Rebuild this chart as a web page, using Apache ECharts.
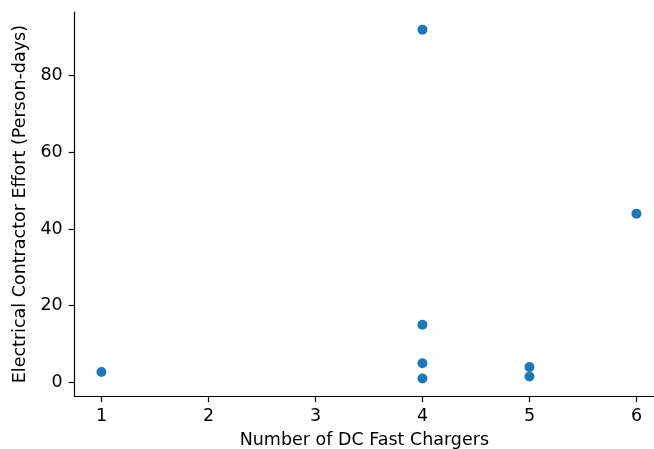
<!DOCTYPE html>
<html>
<head>
<meta charset="utf-8">
<script src="https://cdn.jsdelivr.net/npm/echarts@6/dist/echarts.min.js"></script>
<style>html,body{margin:0;padding:0;background:#fff;}#c{width:654px;height:449px;}</style>
</head>
<body>
<div id="c"></div>
<script>
const chargers = [1, 4, 4, 4, 4, 5, 5, 6];
const effort = [2.7, 92, 15, 5, 1, 4, 1.5, 44];
const xTicks = [1, 2, 3, 4, 5, 6];
const yTicks = [0, 20, 40, 60, 80];
const xName = 'Number of DC Fast Chargers';
const yName = 'Electrical Contractor Effort (Person-days)';

const points = chargers.map((x, i) => [x, effort[i]]);
const font = 'DejaVu Sans';
const fs = 17.5;
const chart = echarts.init(document.getElementById('c'), null, {renderer: 'canvas'});
chart.setOption({
  animation: false,
  grid: {left: 74.7, top: 12.2, right: 0, bottom: 52.9, containLabel: false, outerBoundsMode: 'none'},
  xAxis: {
    type: 'value', min: 0.75, max: 6.164,
    name: xName, nameLocation: 'middle', nameGap: 35,
    nameTextStyle: {fontFamily: font, fontSize: fs, color: '#000'},
    axisLine: {show: true, onZero: false, lineStyle: {color: '#000', width: 1.2}},
    axisTick: {show: true, length: 6, customValues: xTicks, lineStyle: {color: '#000', width: 1.2}},
    axisLabel: {customValues: xTicks, margin: 11, fontFamily: font, fontSize: fs, color: '#000'},
    splitLine: {show: false}
  },
  yAxis: {
    type: 'value', min: -3.59, max: 96.55,
    name: yName, nameLocation: 'middle', nameGap: 39, nameRotate: 90,
    nameTextStyle: {fontFamily: font, fontSize: fs, color: '#000'},
    axisLine: {show: true, onZero: false, lineStyle: {color: '#000', width: 1.2}},
    axisTick: {show: true, length: 6, customValues: yTicks, lineStyle: {color: '#000', width: 1.2}},
    axisLabel: {customValues: yTicks, margin: 12, fontFamily: font, fontSize: fs, color: '#000'},
    splitLine: {show: false}
  },
  series: [{
    type: 'scatter',
    data: points,
    symbolSize: 10,
    itemStyle: {color: '#1f77b4', opacity: 1}
  }]
});
</script>
</body>
</html>
